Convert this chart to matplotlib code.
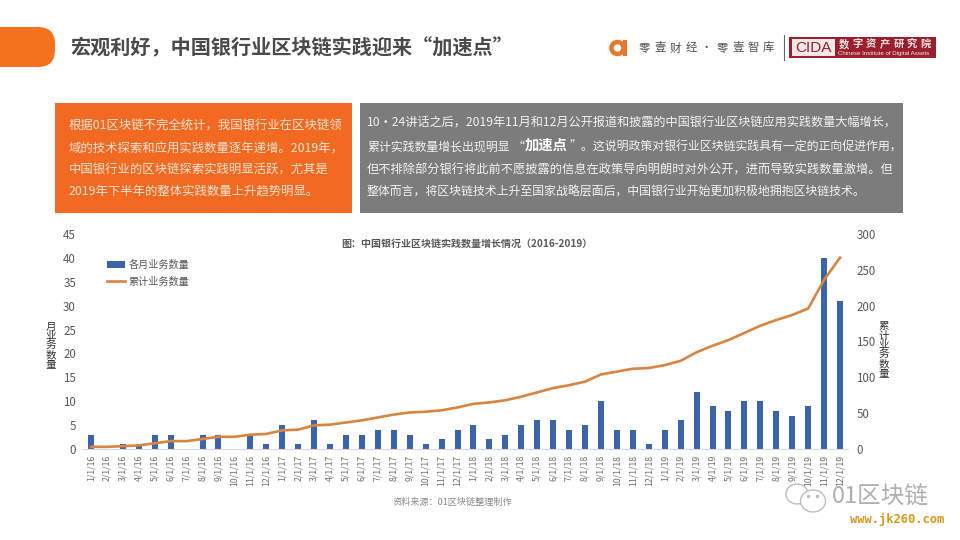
import matplotlib
matplotlib.use("Agg")
import matplotlib.pyplot as plt
from matplotlib.patches import Rectangle, FancyBboxPatch, Ellipse

plt.rcParams['font.family'] = ['Noto Sans CJK SC', 'DejaVu Sans']

months = ["1/1/16", "2/1/16", "3/1/16", "4/1/16", "5/1/16", "6/1/16", "7/1/16", "8/1/16", "9/1/16", "10/1/16", "11/1/16", "12/1/16",
          "1/1/17", "2/1/17", "3/1/17", "4/1/17", "5/1/17", "6/1/17", "7/1/17", "8/1/17", "9/1/17", "10/1/17", "11/1/17", "12/1/17",
          "1/1/18", "2/1/18", "3/1/18", "4/1/18", "5/1/18", "6/1/18", "7/1/18", "8/1/18", "9/1/18", "10/1/18", "11/1/18", "12/1/18",
          "1/1/19", "2/1/19", "3/1/19", "4/1/19", "5/1/19", "6/1/19", "7/1/19", "8/1/19", "9/1/19", "10/1/19", "11/1/19", "12/1/19"]
monthly = [3, 0, 1, 1, 3, 3, 0, 3, 3, 0, 3, 1,
           5, 1, 6, 1, 3, 3, 4, 4, 3, 1, 2, 4,
           5, 2, 3, 5, 6, 6, 4, 5, 10, 4, 4, 1,
           4, 6, 12, 9, 8, 10, 10, 8, 7, 9, 40, 31]
total = [3, 3, 4, 5, 8, 11, 11, 14, 17, 17, 20, 21,
         26, 27, 33, 34, 37, 40, 44, 48, 51, 52, 54, 58,
         63, 65, 68, 73, 79, 85, 89, 94, 104, 108, 112, 113,
         117, 123, 135, 144, 152, 162, 172, 180, 187, 196, 236, 267]

W, H = 960, 540
ORANGE = "#f26a21"
GRAY = "#7c7c7c"
BOX_TEXT = "#f2f2f2"

fig = plt.figure(figsize=(9.6, 5.4), dpi=100, facecolor="white")

# full page layer in pixel coordinates for the slide furniture
bg = fig.add_axes([0, 0, 1, 1])
bg.set_xlim(0, W)
bg.set_ylim(H, 0)
bg.axis("off")

bg.add_patch(FancyBboxPatch((-30, 27), 85, 40, boxstyle="round,pad=0,rounding_size=17", fc="#f4721e", ec="none"))
bg.text(70, 48, "宏观利好，中国银行业区块链实践迎来“加速点”", fontsize=14.5, fontweight="bold", color="#4a4a4a", va="center")

# logos
bg.add_patch(Ellipse((617.5, 48), 12, 12, fc="none", ec="#e8772e", lw=3.2))
bg.add_patch(Rectangle((623, 40), 4, 16, fc="#e8772e", ec="none"))
for i, ch in enumerate("零壹财经·零壹智库"):
    bg.text(644 + i * 15.6, 48, ch, fontsize=8.2, color="#505050", ha="center", va="center")
bg.plot([784, 784], [35, 60], color="#666666", lw=0.8)
bg.add_patch(Rectangle((789, 37), 147, 21, fc="#9c1f2e", ec="none"))
bg.add_patch(Rectangle((792, 39), 43, 17, fc="#f3e9e6", ec="none"))
bg.text(813.5, 47.5, "CIDA", fontsize=11, color="#9c1f2e", ha="center", va="center", family=["Liberation Sans"])
for i, ch in enumerate("数字资产研究院"):
    bg.text(844 + i * 13.6, 44, ch, fontsize=7.4, color="#f5e6e6", ha="center", va="center", fontweight="bold")
bg.text(838, 53, "Chinese Institute of Digital Assets", fontsize=4.4, color="#f5e6e6", va="center", family=["Liberation Sans"])

# text boxes
bg.add_patch(Rectangle((55, 103), 297, 110, fc=ORANGE, ec="none"))
bg.add_patch(Rectangle((360, 103), 543, 110, fc=GRAY, ec="none"))

left_lines = ["根据01区块链不完全统计，我国银行业在区块链领",
              "域的技术探索和应用实践数量逐年递增。2019年，",
              "中国银行业的区块链探索实践明显活跃，尤其是",
              "2019年下半年的整体实践数量上升趋势明显。"]
for y, line in zip([126, 148, 170, 191], left_lines):
    bg.text(69, y, line, fontsize=8.9, color="#fbe3d3", va="center")

bg.text(367, 123, "10·24讲话之后，2019年11月和12月公开报道和披露的中国银行业区块链应用实践数量大幅增长，",
        fontsize=8.75, color=BOX_TEXT, va="center")
bg.text(367, 147, "累计实践数量增长出现明显", fontsize=8.6, color=BOX_TEXT, va="center")
bg.text(524, 147, "“", fontsize=8.6, color=BOX_TEXT, va="center", ha="right")
bg.text(525, 146, "加速点", fontsize=10.3, fontweight="bold", color="white", va="center")
bg.text(569, 147, "”。这说明政策对银行业区块链实践具有一定的正向促进作用，", fontsize=8.6, color=BOX_TEXT, va="center")
bg.text(367, 170, "但不排除部分银行将此前不愿披露的信息在政策导向明朗时对外公开，进而导致实践数量激增。但",
        fontsize=8.8, color=BOX_TEXT, va="center")
bg.text(367, 192, "整体而言，将区块链技术上升至国家战略层面后，中国银行业开始更加积极地拥抱区块链技术。",
        fontsize=8.6, color=BOX_TEXT, va="center")

# chart
ax = fig.add_axes([83 / W, 1 - 449 / H, (848 - 83) / W, (449 - 234) / H])
ax.patch.set_alpha(0)
x = list(range(len(months)))
bars = ax.bar(x, monthly, width=0.38, color="#3c64aa", label="各月业务数量")
ax.set_xlim(-0.5, len(months) - 0.5)
ax.set_ylim(0, 45)
ax.set_yticks(range(0, 50, 5))
ax.set_xticks(x)
ax.set_xticklabels(months, rotation=90, fontsize=6.3, color="#707070")
ax.tick_params(axis="both", length=0)
ax.tick_params(axis="y", labelsize=8.3, labelcolor="#595959", pad=5)
ax.tick_params(axis="x", pad=4)
for s in ["top", "left", "right"]:
    ax.spines[s].set_visible(False)
ax.spines["bottom"].set_color("#d9d9d9")

ax2 = ax.twinx()
line, = ax2.plot(x, total, color="#d9843f", lw=1.9, label="累计业务数量")
ax2.set_ylim(0, 300)
ax2.set_yticks(range(0, 350, 50))
ax2.tick_params(axis="y", length=0, labelsize=8.3, labelcolor="#595959", pad=6)
for s in ["top", "left", "right", "bottom"]:
    ax2.spines[s].set_visible(False)

fig.legend(handles=[bars, line], loc="upper left", bbox_to_anchor=(107 / W, 1 - 260 / H), frameon=False,
           fontsize=7.3, labelcolor="#595959", handlelength=1.8, handletextpad=0.35, labelspacing=0.6,
           borderpad=0, borderaxespad=0)

bg.text(467, 244, "图：中国银行业区块链实践数量增长情况（2016-2019）", fontsize=7.2, fontweight="bold", color="#595959",
        ha="center", va="center")
bg.text(51, 346, "\n".join("月业务数量"), fontsize=7.6, color="#333333", ha="center", va="center", linespacing=0.95)
bg.text(884, 350, "\n".join("累计业务数量"), fontsize=7.6, color="#333333", ha="center", va="center", linespacing=0.95)
bg.text(452, 502, "资料来源：01区块链整理制作", fontsize=6.6, color="#8a8a8a", ha="center", va="center")

# watermark
bg.add_patch(Ellipse((797, 494), 22, 20, fc="white", ec="#bdbdbd", lw=1))
bg.add_patch(Ellipse((813, 501), 25, 22, fc="white", ec="#bdbdbd", lw=1))
bg.plot([808, 817], [496, 496], ls="none", marker="o", ms=1.5, color="#bdbdbd")
bg.text(832, 497, "01区块链", fontsize=17, color="#b0b0b0", va="center")
bg.text(850, 520, "www.jk260.com", fontsize=8.7, fontweight="bold", color="#d9981e", va="center", family=["DejaVu Sans Mono"])

fig.savefig("out.png", dpi=100)
